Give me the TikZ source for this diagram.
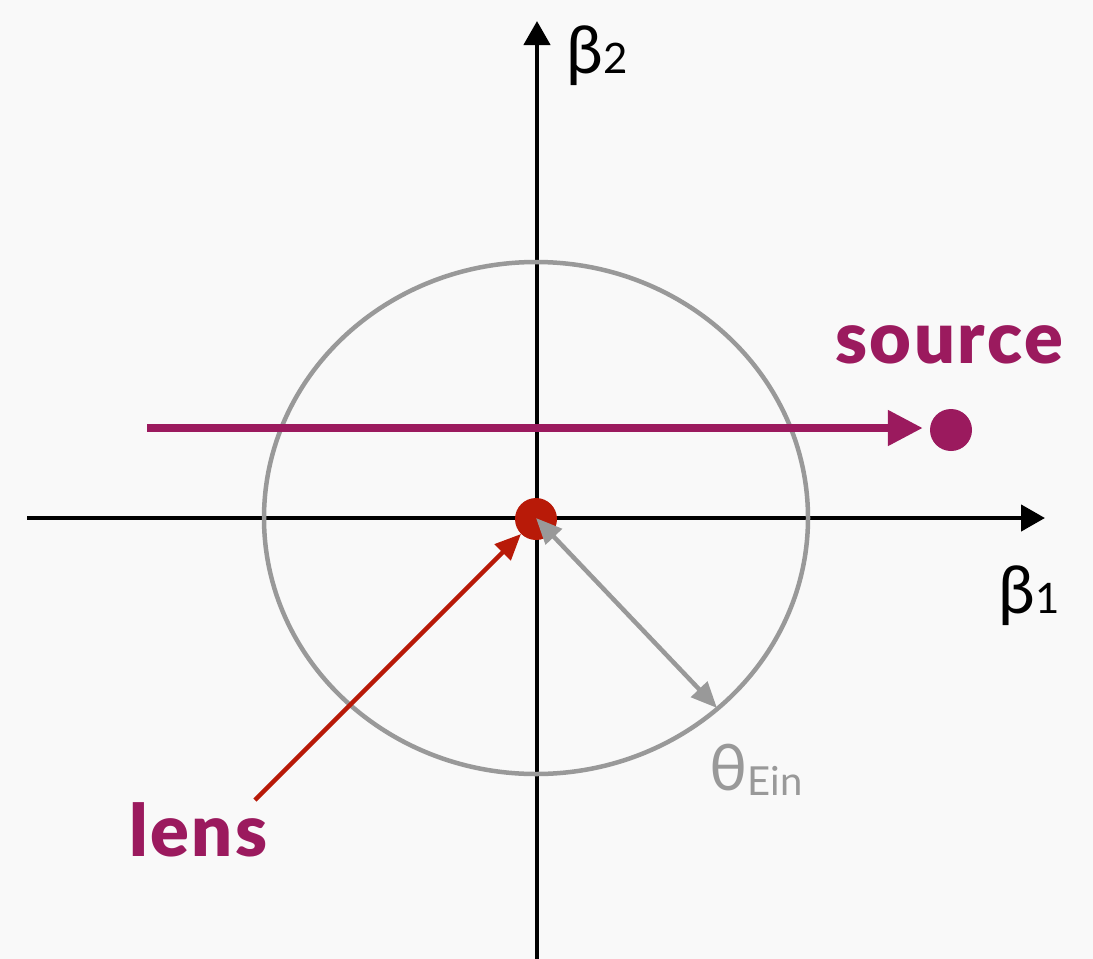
\documentclass[tikz,border=0pt]{standalone}
\usepackage{fontspec}
\setmainfont{Lato}
\newfontfamily\heavyfont{Lato Black}[LetterSpace=3.5]
\usetikzlibrary{arrows.meta}
\definecolor{bg}{HTML}{F9F9F9}
\definecolor{srcpurple}{HTML}{9B1A5E}
\definecolor{lensred}{HTML}{B81A08}
\definecolor{eingray}{HTML}{999999}
\tikzset{
  axis/.style={line width=4.5pt, black, -{Triangle[length=24pt,width=26pt]}},
  ring/.style={line width=4.5pt, eingray},
  pathline/.style={line width=8pt, srcpurple, -{Triangle[length=35pt,width=34pt]}},
  pointer/.style={line width=4.5pt, lensred, -{Triangle[length=26pt,width=22pt]}},
  radius arrow/.style={line width=4.5pt, eingray, {Triangle[length=26pt,width=22pt]}-{Triangle[length=26pt,width=22pt]}},
  dot/.style={circle, inner sep=0pt, minimum size=42pt},
  lbl/.style={inner sep=0pt, anchor=base west},
}
\begin{document}
\begin{tikzpicture}[x=1pt,y=-1pt]
\fill[bg] (0,0) rectangle (1093,959);
\useasboundingbox (0,0) rectangle (1093,959);
\coordinate (O) at (536,518);
\coordinate (xL) at (27,518);
\coordinate (xR) at (1045,518);
\coordinate (yB) at (537,960);
\coordinate (yT) at (537,21);
\coordinate (srcstart) at (147,428);
\coordinate (lenstail) at (255,800);
\coordinate (ein) at (717,708);
% axes
\draw[axis] (xL) -- (xR);
\draw[axis] (yB) -- (yT);
% Einstein ring
\draw[ring] (O) ellipse [x radius=272, y radius=256];
% dots
\node[dot, fill=lensred] (lens) at (536,519) {};
\node[dot, fill=srcpurple] (src) at (951,430) {};
% arrows
\draw[pathline, shorten >=7pt] (srcstart) -- (srcstart -| src.west);
\draw[pointer] (lenstail) -- (lens);
\draw[radius arrow] (O) -- (ein);
% labels
\node[lbl] (b2) at (566,73) {\fontsize{66}{66}\selectfont β\fontsize{42}{42}\selectfont 2};
\node[lbl] (b1) at (998,613) {\fontsize{66}{66}\selectfont β\fontsize{42}{42}\selectfont 1};
\node[lbl, text=eingray] (theta) at (709,790) {\fontsize{64}{64}\selectfont θ\raisebox{-5pt}{\fontsize{40}{40}\selectfont Ein}};
\node[lbl, text=srcpurple] (srclbl) at (835,363) {\heavyfont\fontsize{72}{72}\selectfont source};
\node[lbl, text=srcpurple] (lenslbl) at (129,856) {\heavyfont\fontsize{72}{72}\selectfont lens};
\end{tikzpicture}
\end{document}
